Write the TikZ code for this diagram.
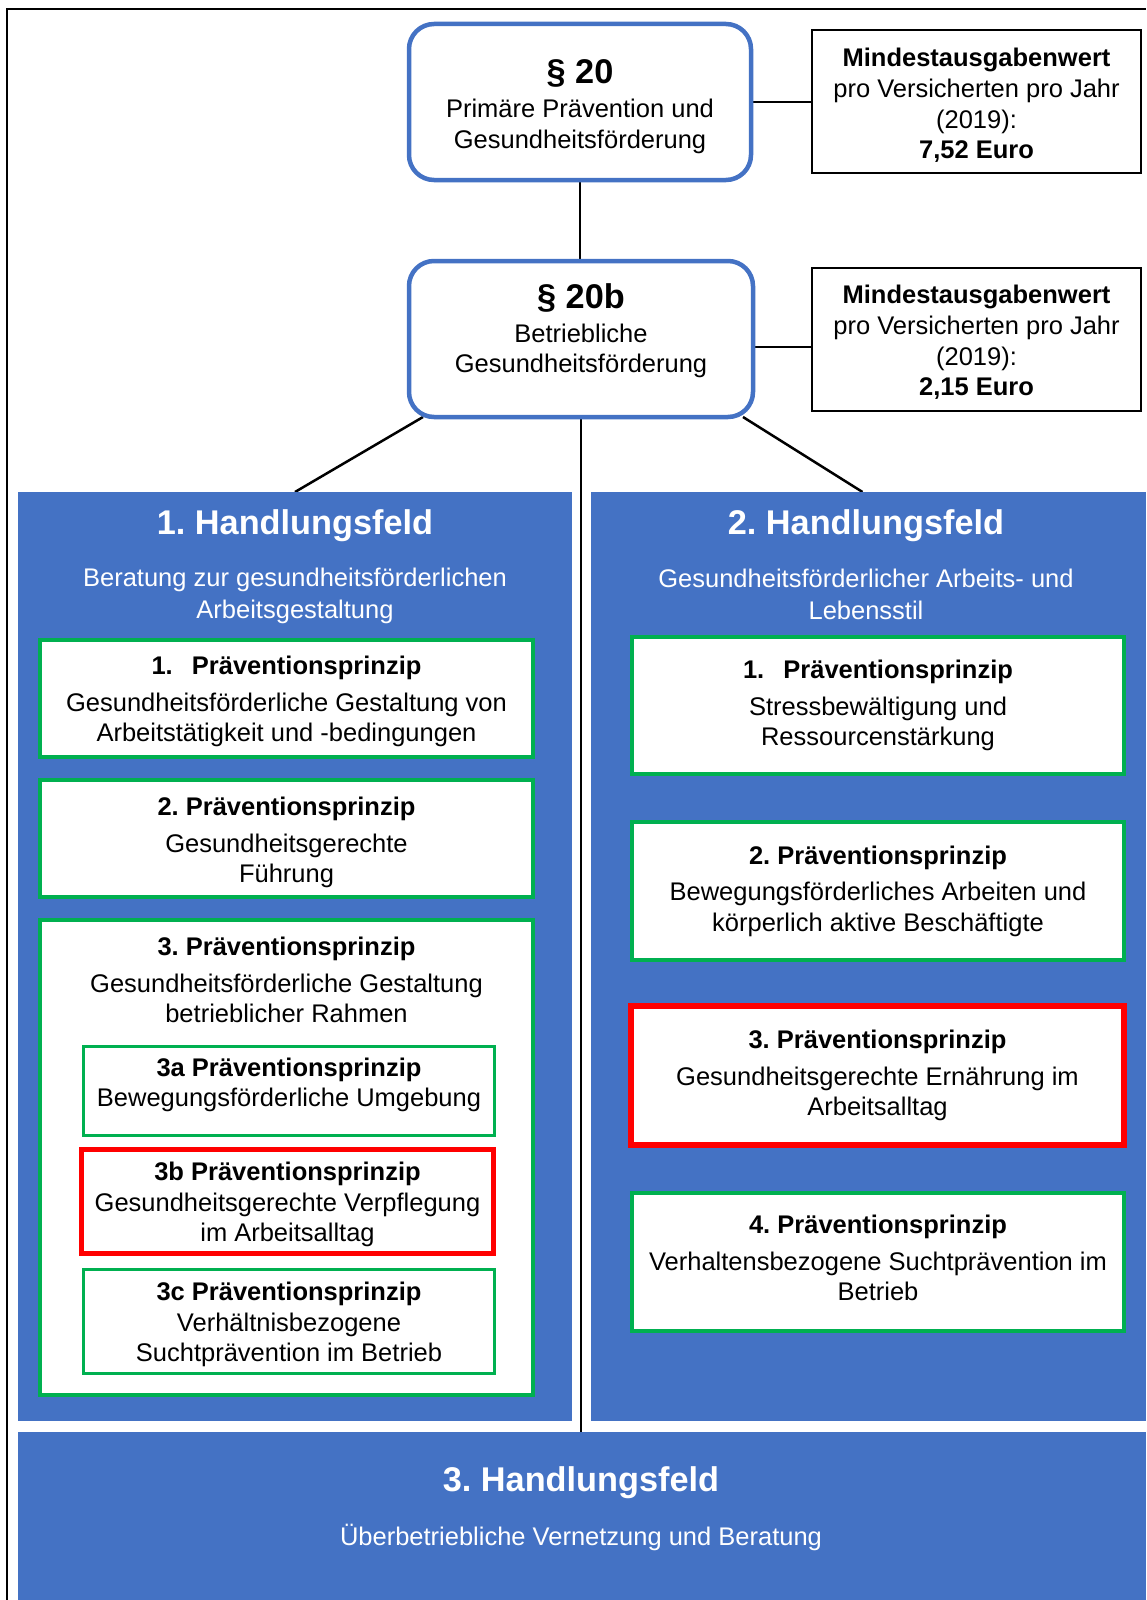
\documentclass[tikz,border=0pt]{standalone}
\usepackage{fontspec}
\setmainfont{Liberation Sans}
\usetikzlibrary{calc}
\definecolor{hfblue}{HTML}{4472C4}
\definecolor{pgreen}{HTML}{00B050}
\definecolor{pred}{HTML}{FF0000}
\newcommand{\fsnorm}{\fontsize{25.5}{30.6}\selectfont}
\newcommand{\fsbig}{\fontsize{34.3}{40}\selectfont\bfseries}
% invisible struts that move a node's text block down or up inside its box
\newcommand{\pushdn}[1]{\rule{0pt}{#1}}
\newcommand{\pushup}[1]{\rule[-#1]{0pt}{0pt}}
\frenchspacing
\pgfdeclarelayer{bg}
\pgfsetlayers{bg,main}

\begin{document}
\begin{tikzpicture}[x=1pt,y=-1pt,
  every node/.style={inner sep=0pt, outer sep=0pt, align=center, font=\fsnorm},
  sz/.style 2 args={minimum width=#1pt, minimum height=#2pt},
  parbox/.style={draw=hfblue, line width=4.5pt, rounded corners=25pt, fill=white},
  valbox/.style={draw=black, line width=2.5pt, fill=white},
  hfpanel/.style={fill=hfblue, draw=none},
  hftitle/.style={text=white, font=\fsbig},
  hfsub/.style={text=white, font=\fontsize{25.5}{32}\selectfont},
  gbox/.style={draw=pgreen, line width=4pt, fill=white},
  gboxthin/.style={draw=pgreen, line width=3.2pt, fill=white},
  rbox/.style={draw=pred, line width=5pt, fill=white},
  rboxthick/.style={draw=pred, line width=6pt, fill=white},
  conn/.style={draw=black, line width=2.5pt}
]
\useasboundingbox (0,0) rectangle (1146,1600);

% outer frame (left and top edges)
\draw[line width=2pt] (7,1600) -- (7,9) -- (1146,9);

% legal basis and minimum expenditure
\node[parbox, sz={342}{156}] (p20) at (580,102)
  {{\fsbig\pushdn{33pt}§ 20}\\[4pt] Primäre Prävention und\\ Gesundheitsförderung};
\node[valbox, sz={329}{143}] (m1) at (976.5,101.5)
  {\pushdn{26.6pt}\textbf{Mindestausgabenwert}\\ pro Versicherten pro Jahr\\ (2019):\\ \textbf{7,52 Euro}};
\node[parbox, sz={344}{156}] (p20b) at (581,339)
  {{\fsbig § 20b}\\[3pt] Betriebliche\\ Gesundheitsförderung\pushup{21.4pt}};
\node[valbox, sz={329}{143}] (m2) at (976.5,339.5)
  {\pushdn{24.6pt}\textbf{Mindestausgabenwert}\\ pro Versicherten pro Jahr\\ (2019):\\ \textbf{2,15 Euro}};

% fields of action
\node[hfpanel, sz={554}{929}] (hf1) at (295,956.5) {};
\node[hfpanel, sz={555}{929}] (hf2) at (868.5,956.5) {};
\node[hfpanel, sz={1128}{168}] (hf3) at (582,1516) {};

\node[hftitle] (hf1t) at (295,526) {1. Handlungsfeld};
\node[hfsub] (hf1s) at (295,596) {Beratung zur gesundheitsförderlichen\\ Arbeitsgestaltung};
\node[hftitle] (hf2t) at (866,526) {2. Handlungsfeld};
\node[hfsub] (hf2s) at (866,594) {Gesundheitsförderlicher Arbeits- und\\ Lebensstil};
\node[hftitle] (hf3t) at (581,1483) {3. Handlungsfeld};
\node[hfsub] (hf3s) at (581,1537) {Überbetriebliche Vernetzung und Beratung};

% prevention principles, field 1
\node[gbox, sz={493}{117}] (l1) at (286.5,698.5)
  {\pushdn{24.6pt}\textbf{1.\hspace{0.75em}Präventionsprinzip}\\[6pt] Gesundheitsförderliche Gestaltung von\\ Arbeitstätigkeit und -bedingungen};
\node[gbox, sz={493}{117}] (l2) at (286.5,838.5)
  {\pushdn{26.6pt}\textbf{2. Präventionsprinzip}\\[6pt] Gesundheitsgerechte\\ Führung};
\node[gbox, sz={493}{475}] (l3) at (286.5,1157.5) {};
\node (l3t) at (286.5,980)
  {\textbf{3. Präventionsprinzip}\\[6pt] Gesundheitsförderliche Gestaltung\\ betrieblicher Rahmen};
\node[gboxthin, sz={411.5}{89}] (l3a) at (289,1091)
  {\textbf{3a Präventionsprinzip}\\ Bewegungsförderliche Umgebung\pushup{17.4pt}};
\node[rbox, sz={412}{104}] (l3b) at (287.5,1201.5)
  {\pushdn{24.6pt}\textbf{3b Präventionsprinzip}\\ Gesundheitsgerechte Verpflegung\\ im Arbeitsalltag};
\node[gboxthin, sz={411.5}{104}] (l3c) at (289,1321.5)
  {\pushdn{24.6pt}\textbf{3c Präventionsprinzip}\\ Verhältnisbezogene\\ Suchtprävention im Betrieb};

% prevention principles, field 2
\node[gbox, sz={492}{137}] (r1) at (878,705.5)
  {\textbf{1.\hspace{0.75em}Präventionsprinzip}\\[6pt] Stressbewältigung und\\ Ressourcenstärkung};
\node[gbox, sz={492}{138}] (r2) at (878,891)
  {\textbf{2. Präventionsprinzip}\\[6pt] Bewegungsförderliches Arbeiten und\\ körperlich aktive Beschäftigte};
\node[rboxthick, sz={493}{139}] (r3) at (877.5,1075.5)
  {\textbf{3. Präventionsprinzip}\\[6pt] Gesundheitsgerechte Ernährung im\\ Arbeitsalltag};
\node[gbox, sz={492}{138}] (r4) at (878,1262)
  {\textbf{4. Präventionsprinzip}\\[6pt] Verhaltensbezogene Suchtprävention im\\ Betrieb\pushup{8pt}};

% connectors, kept behind the boxes
\begin{pgfonlayer}{bg}
\coordinate (c347) at (0,347);
\draw[conn] (p20.south) -- (p20.south |- p20b.north);
\draw[conn] (p20.east) -- (p20.east -| m1.west);
\draw[conn] (p20b.east |- c347) -- (m2.west |- c347);
\draw[conn] ($(p20b.south west)+(14,0)$) -- (hf1.north);
\draw[conn] ($(p20b.south east)+(-10,0)$) -- ($(hf2.north)+(-6,0)$);
\draw[conn] (p20b.south) -- (p20b.south |- hf3.north);
\end{pgfonlayer}
\end{tikzpicture}
\end{document}
